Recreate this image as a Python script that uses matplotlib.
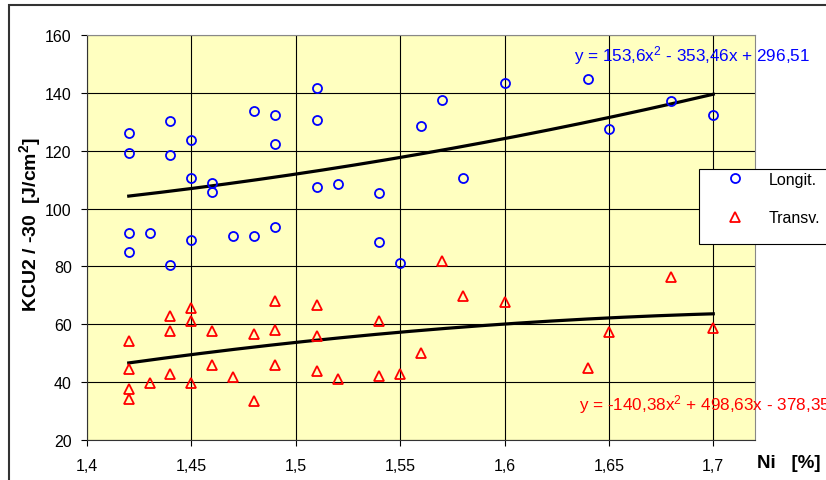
import numpy as np
import matplotlib
matplotlib.use("Agg")
import matplotlib.pyplot as plt
from matplotlib.patches import Rectangle

plt.rcParams['font.family'] = ['Liberation Sans', 'DejaVu Sans']
plt.rcParams['mathtext.default'] = 'regular'

# Longit. samples (Ni %, KCU2)
long_x = [1.42, 1.42, 1.42, 1.42, 1.43, 1.44, 1.44, 1.44, 1.45, 1.45, 1.45,
          1.46, 1.46, 1.47, 1.48, 1.48, 1.49, 1.49, 1.49, 1.51, 1.51, 1.51,
          1.52, 1.54, 1.54, 1.55, 1.56, 1.57, 1.58, 1.60, 1.64, 1.65, 1.68, 1.70]
long_y = [126.0, 119.1, 91.7, 84.9, 91.7, 130.2, 118.5, 80.6, 123.7, 110.6, 89.1,
          108.7, 105.8, 90.6, 133.8, 90.6, 132.2, 122.2, 93.7, 141.7, 130.6, 107.5,
          108.6, 105.4, 88.6, 81.2, 128.5, 137.5, 110.6, 143.3, 144.9, 127.5, 137.1, 132.2]

# Transv. samples
trans_x = [1.42, 1.42, 1.42, 1.42, 1.43, 1.44, 1.44, 1.44, 1.45, 1.45, 1.45,
           1.46, 1.46, 1.47, 1.48, 1.48, 1.49, 1.49, 1.49, 1.51, 1.51, 1.51,
           1.52, 1.54, 1.54, 1.55, 1.56, 1.57, 1.58, 1.60, 1.64, 1.65, 1.68, 1.70]
trans_y = [54.3, 44.4, 37.5, 34.2, 39.6, 62.9, 57.6, 42.8, 65.5, 61.2, 39.7,
           57.6, 45.9, 41.8, 56.5, 33.4, 68.0, 58.1, 45.9, 66.6, 55.8, 43.9,
           41.1, 61.2, 42.2, 42.8, 50.2, 81.8, 69.7, 67.6, 44.9, 57.4, 76.5, 58.6]

# trendline coefficients as printed on the chart
long_coef = [153.6, -353.46, 296.51]
trans_coef = [-140.38, 498.63, -378.35]

x_ticks = [1.40, 1.45, 1.50, 1.55, 1.60, 1.65, 1.70]
x_ticklabels = ['1,4', '1,45', '1,5', '1,55', '1,6', '1,65', '1,7']
y_ticks = [20, 40, 60, 80, 100, 120, 140, 160]

W, H = 826, 481
fig = plt.figure(figsize=(W / 100, H / 100), dpi=100)
fig.patch.set_facecolor('white')

# outer chart frame
fig.patches.append(Rectangle((9 / W, -0.05), 1.1, 1 - 6 / H + 0.05, transform=fig.transFigure,
                             fill=False, edgecolor='#333333', lw=1.5))

ax = fig.add_axes([87 / W, 40 / H, (755 - 87) / W, (441 - 36) / H])
ax.set_facecolor('#FFFFC0')

ax.grid(True, color='black', lw=0.8)
ax.set_axisbelow(True)

xs = np.linspace(min(long_x), max(long_x), 200)
ax.plot(xs, np.polyval(long_coef, xs), color='black', lw=2.3, zorder=2)
ax.plot(xs, np.polyval(trans_coef, xs), color='black', lw=2.3, zorder=2)

ax.plot(long_x, long_y, 'o', mfc='none', mec='#0000FF', ms=6.5, mew=1.3,
        label='Longit.', zorder=3)
ax.plot(trans_x, trans_y, '^', mfc='none', mec='#FF0000', ms=7.5, mew=1.3,
        label='Transv.', zorder=3)

ax.set_xlim(1.40, 1.72)
ax.set_ylim(20, 160)
ax.set_xticks(x_ticks)
ax.set_xticklabels(x_ticklabels)
ax.set_yticks(y_ticks)
ax.tick_params(axis='both', labelsize=11.5, length=4, width=0.8, direction='out')
ax.tick_params(axis='y', pad=7)
ax.tick_params(axis='x', pad=9)

for s in ['left', 'bottom']:
    ax.spines[s].set_color('#333333')
for s in ['top', 'right']:
    ax.spines[s].set_color('#888888')

fig.text(30 / W, 1 - 225 / H, 'KCU2 / -30  [J/cm$^2$]', fontsize=14, fontweight='bold',
         rotation=90, ha='center', va='center')
fig.text(757 / W, 1 - 464 / H, 'Ni   [%]', fontsize=13.5, fontweight='bold', va='center')

fig.text(574 / W, 1 - 56 / H, 'y = 153,6x$^2$ - 353,46x + 296,51', color='#0000FF',
         fontsize=12.3, va='center')
fig.text(579 / W, 1 - 405 / H, 'y = -140,38x$^2$ + 498,63x - 378,35', color='#FF0000',
         fontsize=12.3, va='center')

# legend box
fig.patches.append(Rectangle((699 / W, 1 - 245 / H), 0.2, 75 / H, transform=fig.transFigure,
                             facecolor='white', edgecolor='black', lw=0.8, zorder=5))
leg = fig.legend(loc='upper left', bbox_to_anchor=(719 / W, 1 - 173 / H), frameon=False,
                 fontsize=11.5, borderpad=0, borderaxespad=0, handlelength=2,
                 handletextpad=1.1, labelspacing=1.45)
leg.set_zorder(6)

fig.savefig('out.png', dpi=100)
